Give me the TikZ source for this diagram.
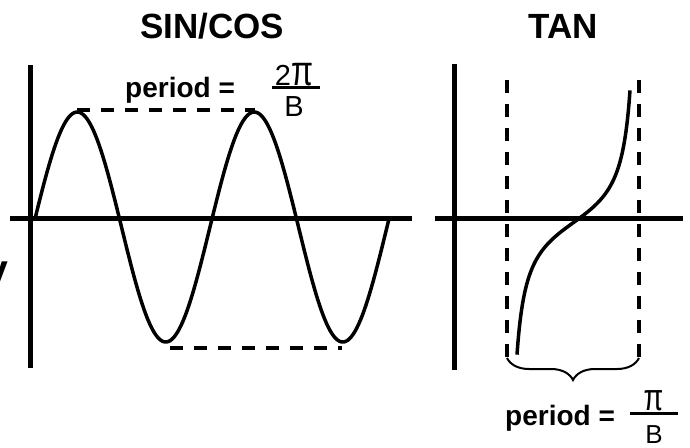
\documentclass[tikz,border=0pt]{standalone}
\usepackage{fontspec}
\setmainfont{Liberation Sans}
\usetikzlibrary{decorations.pathreplacing}
\newcommand{\grandpi}{\scalebox{1.1}[1.45]{π}}
\tikzset{
  axe/.style={line width=5pt},
  pointille/.style={line width=4pt, dash pattern=on 13pt off 11pt},
  courbe/.style={line width=3.5pt, line join=round},
  titre/.style={font=\fontsize{35}{40}\selectfont\bfseries, inner sep=0pt, anchor=base},
  texte/.style={font=\fontsize{28}{32}\selectfont\bfseries, inner sep=0pt, anchor=base west},
  fraction/.style={font=\fontsize{29}{32}\selectfont, inner sep=0pt, anchor=base},
}
\begin{document}
\begin{tikzpicture}[x=1pt, y=-1pt]
		\useasboundingbox (0,0) rectangle (690,447);
		%Titres
		\node[titre] (SC) at (212,38) {SIN/COS};
		\node[titre] (TAN) at (563.5,38) {TAN};
		\node[font=\fontsize{41}{44}\selectfont\bfseries, inner sep=0pt, anchor=base east] (Y) at (9,283) {y};
		%Axes du graphe sin/cos
		\coordinate (SCh) at (30,65);
		\coordinate (SCb) at (30,368);
		\coordinate (SCg) at (10,218);
		\coordinate (SCd) at (412,218);
		\draw[axe] (SCh) -- (SCb);
		\draw[axe] (SCg) -- (SCd);
		%Courbe sinus
		\draw[courbe] plot[domain=35:389, samples=200] (\x, {227-115*sin(2.0339*(\x-33))});
		\coordinate (M1) at (77,110);
		\coordinate (M2) at (255,110);
		\coordinate (m1) at (170,348);
		\coordinate (m2) at (342,348);
		\draw[pointille] (M1) -- (M2);
		\draw[pointille] (m1) -- (m2);
		\node[texte] (P1) at (125,97) {period =};
		\node[fraction] (N1) at (294,85) {2\grandpi};
		\node[fraction] (D1) at (294,116) {B};
		\draw[line width=3pt] (272,87) -- (320,87);
		%Axes du graphe tan
		\coordinate (Th) at (454,64);
		\coordinate (Tb) at (454,370);
		\coordinate (Tg) at (435,218);
		\coordinate (Td) at (683,218);
		\draw[axe] (Th) -- (Tb);
		\draw[axe] (Tg) -- (Td);
		%Asymptotes
		\coordinate (A1h) at (507,80);
		\coordinate (A1b) at (507,358);
		\coordinate (A2h) at (639,80);
		\coordinate (A2b) at (639,358);
		\draw[pointille] (A1h) -- (A1b);
		\draw[pointille] (A2h) -- (A2b);
		%Courbe tangente
		\draw[courbe] plot[domain=517:630, samples=200] (\x, {222.5-30.4*tan(1.3636*(\x-573.5))});
		\draw[line width=2pt, decorate, decoration={brace, mirror, amplitude=22pt}] (A1b) -- (A2b);
		\node[texte] (P2) at (505,425) {period =};
		\node[fraction, font=\fontsize{26}{30}\selectfont] (N2) at (653.5,410) {\grandpi};
		\node[fraction, font=\fontsize{26}{30}\selectfont] (D2) at (654,443) {B};
		\draw[line width=3pt] (630,413) -- (678,413);
\end{tikzpicture}
\end{document}
